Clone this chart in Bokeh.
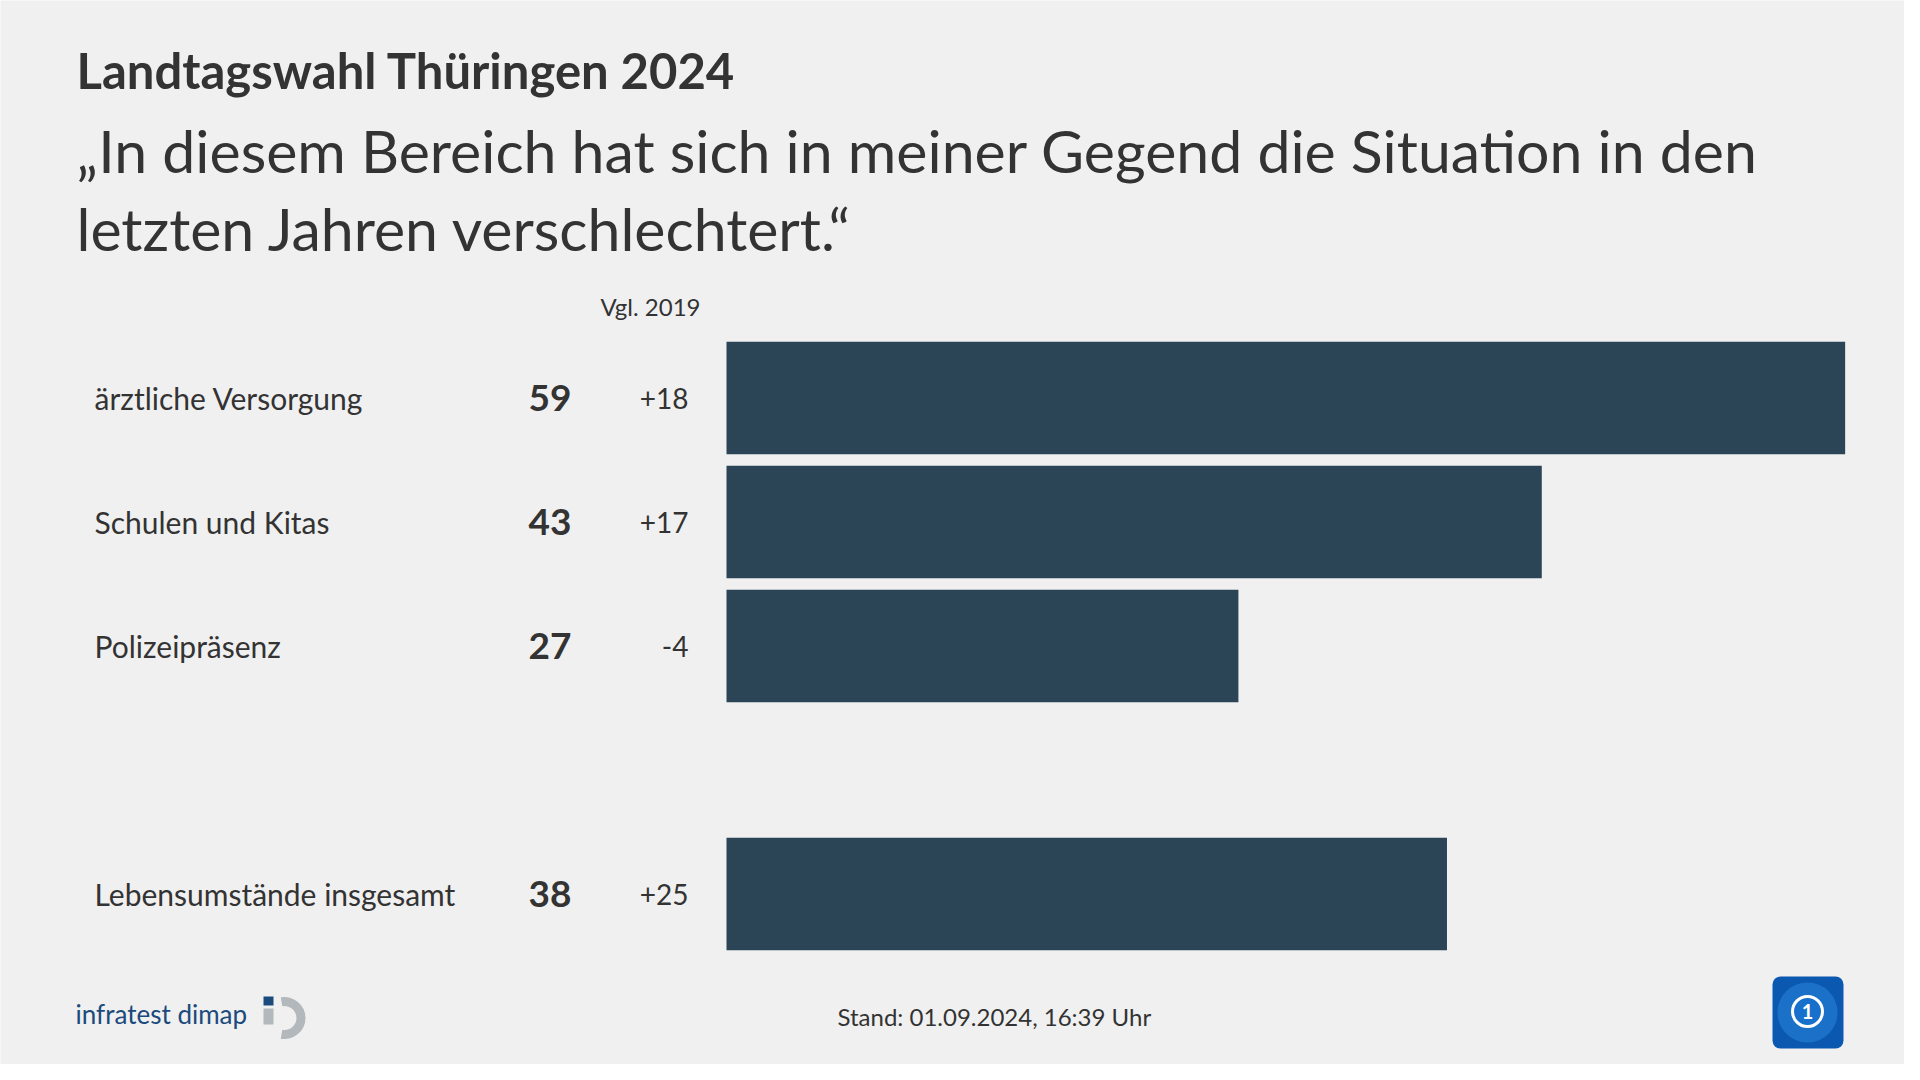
from bokeh.plotting import figure
from bokeh.models import ColumnDataSource, Range1d, BoxAnnotation
from bokeh.core.properties import value
from bokeh.embed import file_html
from bokeh.resources import INLINE

# ---- data ----
title = "Landtagswahl Thüringen 2024"
subtitle_lines = ["„In diesem Bereich hat sich in meiner Gegend die Situation in den",
                  "letzten Jahren verschlechtert.“"]
categories = ["ärztliche Versorgung", "Schulen und Kitas", "Polizeipräsenz", "Lebensumstände insgesamt"]
values = [59, 43, 27, 38]
changes = ["+18", "+17", "-4", "+25"]
row_pos = [0, 1, 2, 4]          # row slots (one empty slot before the total)
change_header = "Vgl. 2019"
footer = "Stand:  01.09.2024, 16:39 Uhr"
source_name = "infratest dimap"

# ---- layout helpers (canvas pixel -> data) ----
W, H = 1904, 1064
X0, PXU = 726.0, 18.96      # pixel of value 0, pixels per percentage point
Y0, PITCH = 397.5, 124.0    # pixel of first row centre, row pitch
def xd(px): return (px - X0) / PXU
def yd(py): return (py - Y0) / PITCH

BG = "#f0f0f0"
BAR = "#2b4557"
TXT = "#333333"
FONT = "Lato"

p = figure(width=W, height=H, output_backend="svg", toolbar_location=None,
           x_range=Range1d(xd(0), xd(W)), y_range=Range1d(yd(H), yd(0)),
           x_axis_type=None, y_axis_type=None,
           min_border=0, min_border_left=0, min_border_right=0,
           min_border_top=0, min_border_bottom=0)
p.background_fill_color = BG
p.border_fill_color = BG
p.outline_line_color = None
p.grid.visible = False

# ---- bars ----
src = ColumnDataSource(dict(y=row_pos, v=values))
p.hbar(y="y", left=0, right="v", height=112.5 / PITCH, source=src,
       fill_color=BAR, line_color=None)

# ---- row texts ----
src_lab = ColumnDataSource(dict(y=row_pos, cat=categories, ch=changes,
                                vs=[str(v) for v in values],
                                xl=[xd(94)] * len(row_pos),
                                xv=[xd(571)] * len(row_pos),
                                xc=[xd(688)] * len(row_pos)))
p.text(x="xl", y="y", text="cat", source=src_lab, text_font=value(FONT),
       text_font_size="30px", text_color=TXT, text_baseline="middle", text_align="left")
p.text(x="xv", y="y", text="vs", source=src_lab, text_font=value(FONT),
       text_font_size="37px", text_font_style="bold", text_color=TXT,
       text_baseline="middle", text_align="right")
p.text(x="xc", y="y", text="ch", source=src_lab, text_font=value(FONT),
       text_font_size="28px", text_color=TXT, text_baseline="middle", text_align="right")

p.text(x=[xd(700)], y=[yd(306)], text=[change_header], text_font=value(FONT),
       text_font_size="24px", text_color=TXT, text_baseline="middle", text_align="right")

# ---- titles ----
p.text(x=[xd(76)], y=[yd(69)], text=[title], text_font=value(FONT),
       text_font_size="49px", text_font_style="bold", text_color=TXT,
       text_baseline="middle", text_align="left")
p.text(x=[xd(76), xd(76)], y=[yd(150), yd(228)], text=subtitle_lines,
       text_font=value(FONT), text_font_size="59px", text_color=TXT,
       text_baseline="middle", text_align="left")

# ---- footer ----
p.text(x=[xd(837)], y=[yd(1016)], text=[footer], text_font=value(FONT),
       text_font_size="24px", text_color=TXT, text_baseline="middle", text_align="left")

p.text(x=[xd(75)], y=[yd(1013)], text=[source_name], text_font=value(FONT),
       text_font_size="26px", text_color="#1b4a7c", text_baseline="middle", text_align="left")
# infratest dimap icon
p.quad(left=[xd(263)], right=[xd(273)], top=[yd(996)], bottom=[yd(1005)],
       fill_color="#1b4a7c", line_color=None)
p.quad(left=[xd(263)], right=[xd(273)], top=[yd(1008)], bottom=[yd(1024)],
       fill_color="#b3b8bd", line_color=None)
p.annular_wedge(x=[xd(284)], y=[yd(1017.5)], inner_radius=12, outer_radius=21,
                inner_radius_units="screen", outer_radius_units="screen",
                start_angle=-1.75, end_angle=1.75, direction="anticlock",
                fill_color="#b3b8bd", line_color=None)

# ARD logo
p.add_layout(BoxAnnotation(left=xd(1772), right=xd(1843), top=yd(976), bottom=yd(1048),
                           fill_color="#0b58b0", fill_alpha=1.0, line_color=None,
                           border_radius=8, level="underlay"))
p.circle(x=[xd(1807)], y=[yd(1012)], radius=30, radius_units="screen",
         fill_color="#2a86dc", fill_alpha=0.55, line_color=None)
p.circle(x=[xd(1807)], y=[yd(1011)], radius=15, radius_units="screen",
         fill_color="#1670cc", line_color="white", line_width=3)
p.text(x=[xd(1807)], y=[yd(1011)], text=["1"], text_font=value(FONT),
       text_font_size="20px", text_font_style="bold", text_color="white",
       text_baseline="middle", text_align="center")

html = file_html(p, INLINE)
html = html.replace("<body>", '<body style="background-color:#f0f0f0;">', 1)
open("out.html", "w").write(html)
